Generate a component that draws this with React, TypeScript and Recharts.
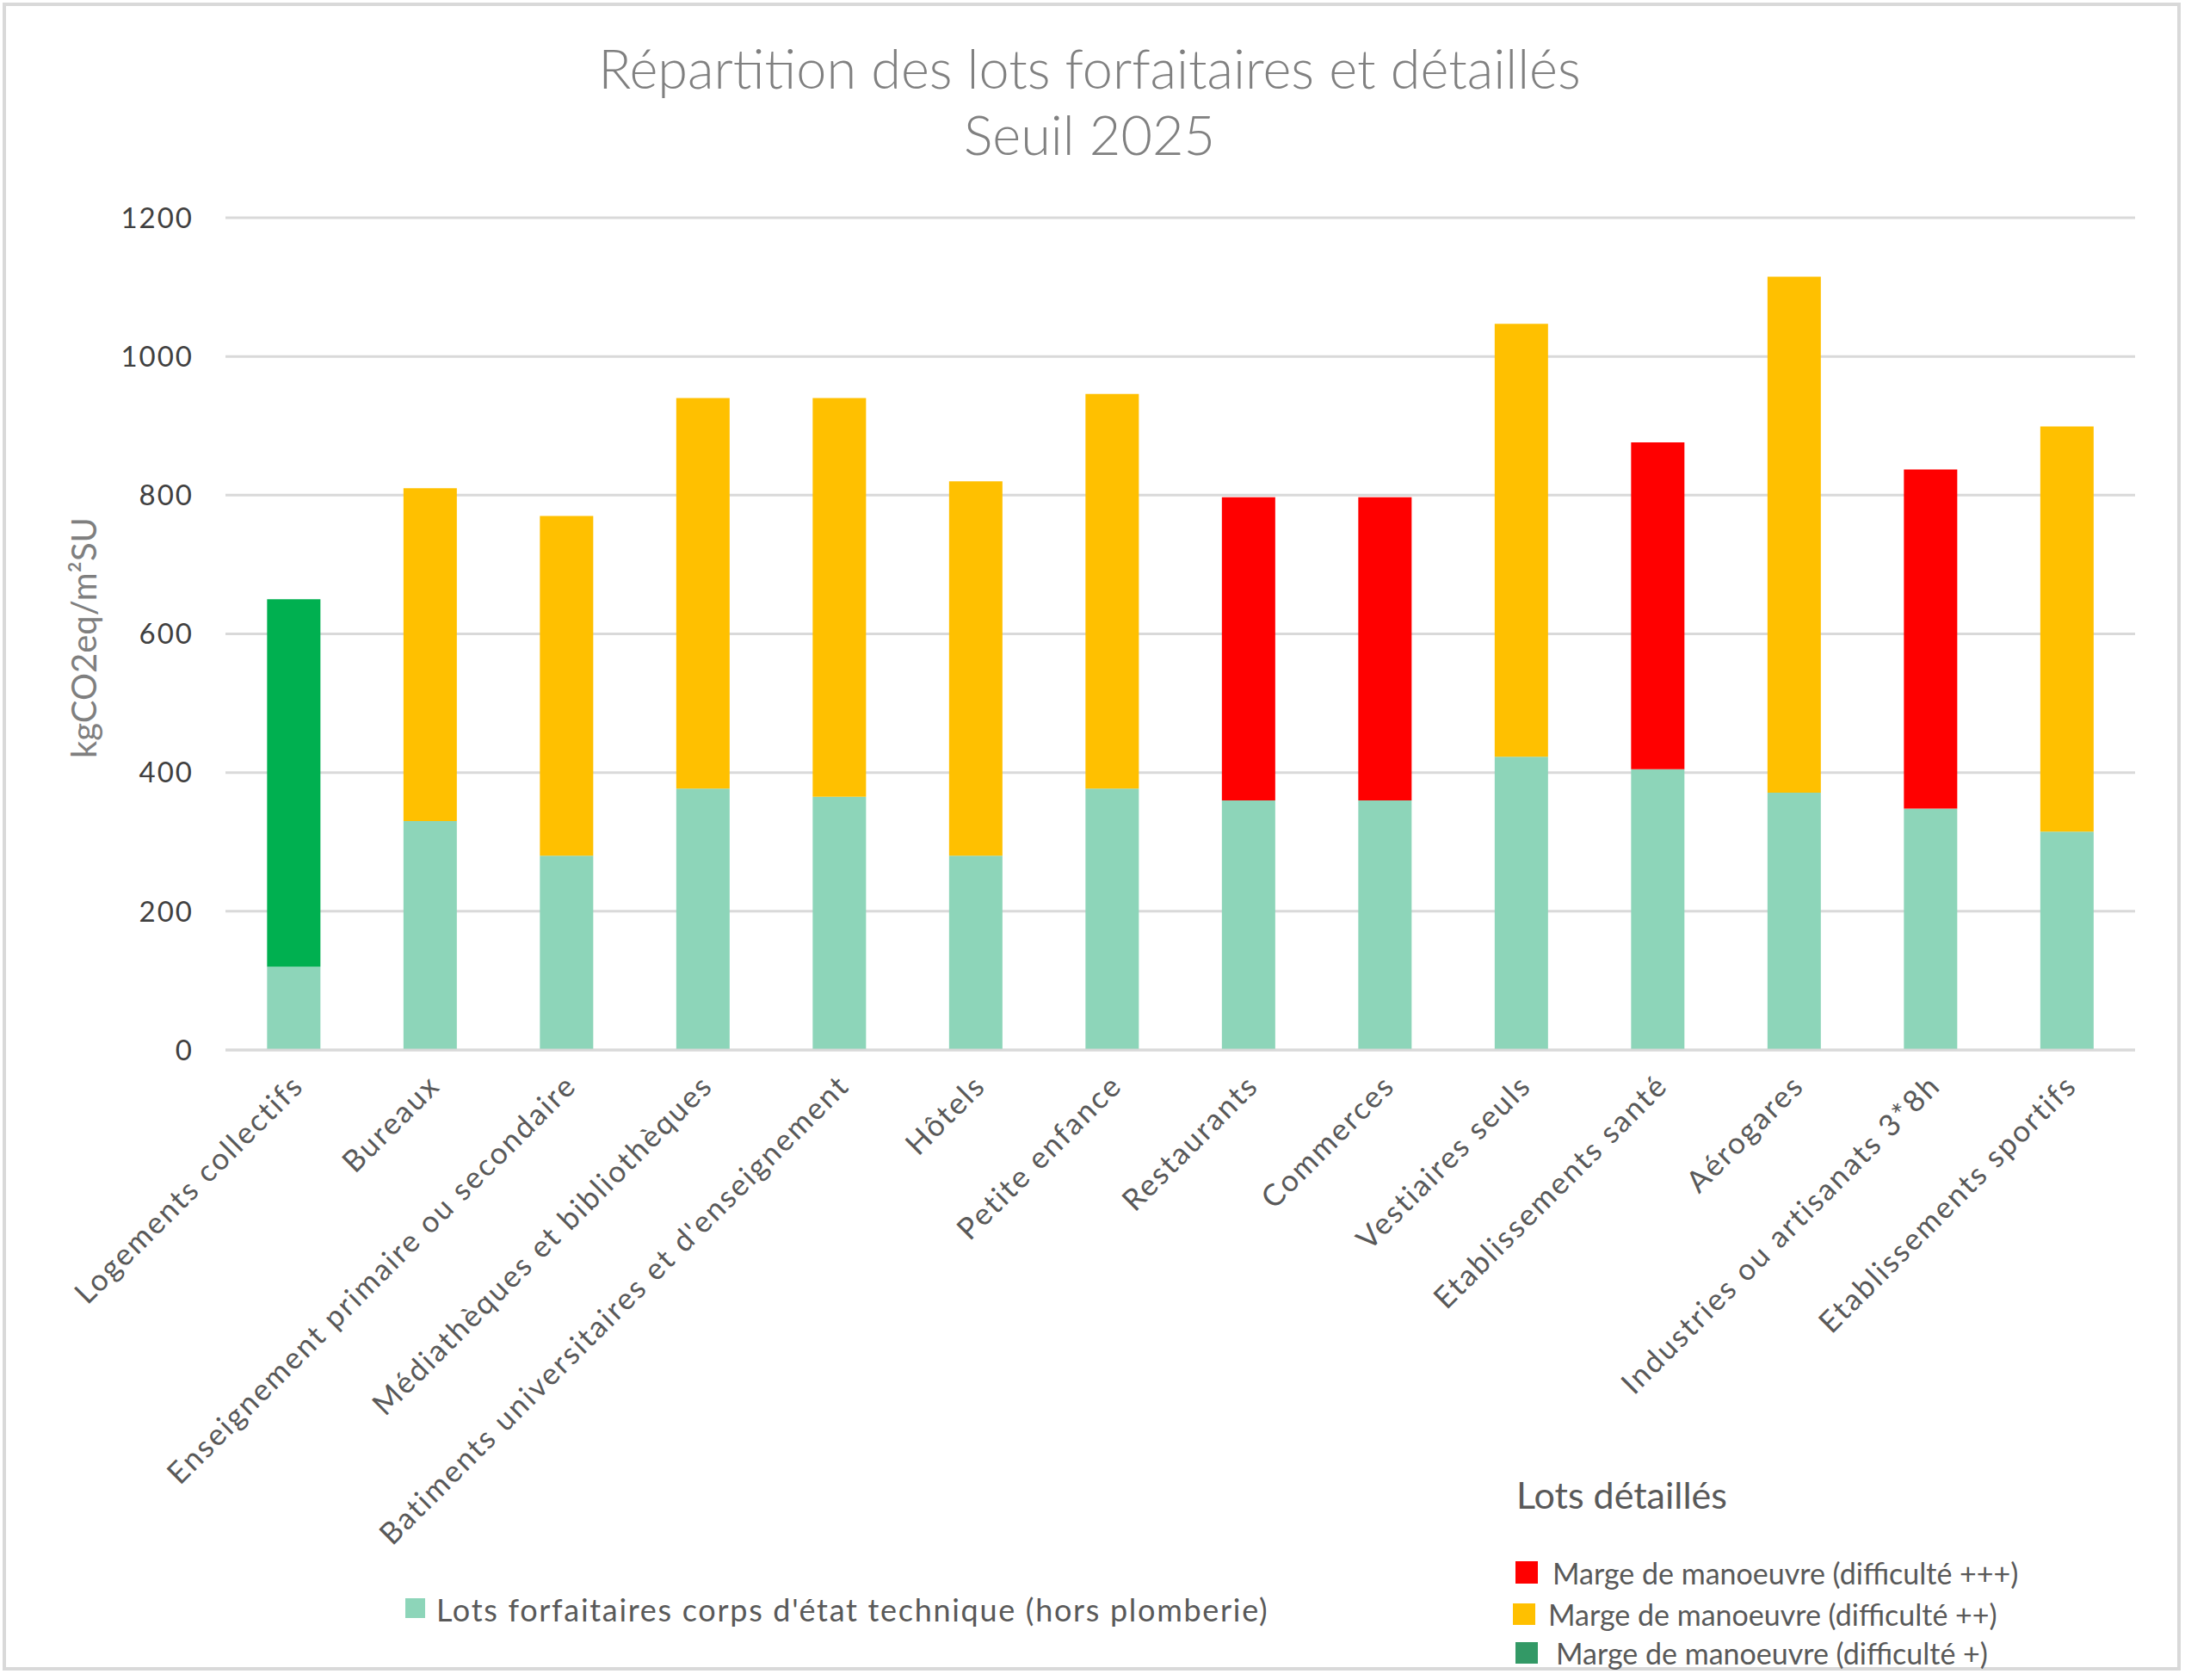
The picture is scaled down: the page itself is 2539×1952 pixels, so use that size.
import React from 'react';
import { BarChart, Bar, XAxis, YAxis, CartesianGrid } from 'recharts';

const categories: string[] = [
  'Logements collectifs',
  'Bureaux',
  'Enseignement primaire ou secondaire',
  'Médiathèques et bibliothèques',
  "Batiments universitaires et d'enseignement",
  'Hôtels',
  'Petite enfance',
  'Restaurants',
  'Commerces',
  'Vestiaires seuls',
  'Etablissements santé',
  'Aérogares',
  'Industries ou artisanats 3*8h',
  'Etablissements sportifs',
];

// Lots forfaitaires corps d'état technique (hors plomberie)
const forfaitaires: number[] = [120, 330, 280, 377, 365, 280, 377, 360, 360, 423, 405, 371, 348, 315];
// Marge de manoeuvre (difficulté +++)
const difficulte3: (number | null)[] = [null, null, null, null, null, null, null, 437, 437, null, 471, null, 489, null];
// Marge de manoeuvre (difficulté ++)
const difficulte2: (number | null)[] = [null, 480, 490, 563, 575, 540, 569, null, null, 624, null, 744, null, 584];
// Marge de manoeuvre (difficulté +)
const difficulte1: (number | null)[] = [530, null, null, null, null, null, null, null, null, null, null, null, null, null];

const yTicks: number[] = [0, 200, 400, 600, 800, 1000, 1200];

const title1 = 'Répartition des lots forfaitaires et détaillés';
const title2 = 'Seuil 2025';
const yLabel = 'kgCO2eq/m²SU';
const legendBase = "Lots forfaitaires corps d'état technique (hors plomberie)";
const legendTitle = 'Lots détaillés';
const legend3 = 'Marge de manoeuvre (difficulté +++)';
const legend2 = 'Marge de manoeuvre (difficulté ++)';
const legend1 = 'Marge de manoeuvre (difficulté +)';

const data = categories.map((name, i) => ({
  name,
  base: forfaitaires[i],
  d3: difficulte3[i],
  d2: difficulte2[i],
  d1: difficulte1[i],
}));

const FONT = 'Lato, "Open Sans", sans-serif';
const W = 2539;
const H = 1952;

const XTick = (props: any) => {
  const { x, y, payload } = props;
  return (
    <g transform={`translate(${x + 5},${y + 27})`}>
      <text
        transform="rotate(-45)"
        textAnchor="end"
        dy="0.35em"
        fill="#595959"
        fontSize={35}
        fontFamily={FONT}
        letterSpacing={2.3}
      >
        {payload.value}
      </text>
    </g>
  );
};

export default function App() {
  return (
    <div style={{ position: 'relative', width: W, height: H, background: '#fff' }}>
      <style>{'body{margin:0;}'}</style>
      <BarChart
        width={W}
        height={H}
        data={data}
        margin={{ top: 253, right: 58, left: 162, bottom: 232 }}
        barCategoryGap="30.5%"
      >
        <CartesianGrid vertical={false} stroke="#d9d9d9" strokeWidth={3} />
        <XAxis
          dataKey="name"
          interval={0}
          height={500}
          tickLine={false}
          axisLine={{ stroke: '#d9d9d9', strokeWidth: 3 }}
          tick={<XTick />}
        />
        <YAxis
          width={100}
          domain={[0, 1200]}
          ticks={yTicks}
          axisLine={false}
          tickLine={false}
          tickMargin={31}
          tick={{ fill: '#404040', fontSize: 33, fontFamily: FONT, letterSpacing: 2 }}
        />
        <Bar dataKey="base" stackId="a" fill="#8DD5B9" isAnimationActive={false} />
        <Bar dataKey="d3" stackId="a" fill="#FF0000" isAnimationActive={false} />
        <Bar dataKey="d2" stackId="a" fill="#FFC000" isAnimationActive={false} />
        <Bar dataKey="d1" stackId="a" fill="#00B050" isAnimationActive={false} />
      </BarChart>
      <svg
        width={W}
        height={H}
        style={{ position: 'absolute', left: 0, top: 0, pointerEvents: 'none' }}
      >
        <rect x={5} y={5} width={2527} height={1934} fill="none" stroke="#d9d9d9" strokeWidth={4} />
        <text x={1266} y={78} textAnchor="middle" dominantBaseline="central" fill="#808080" fontSize={63} fontWeight={300} fontFamily={FONT}>
          {title1}
        </text>
        <text x={1266} y={155} textAnchor="middle" dominantBaseline="central" fill="#808080" fontSize={63} fontWeight={300} fontFamily={FONT}>
          {title2}
        </text>
        <text
          x={97}
          y={741}
          transform="rotate(-90, 97, 741)"
          textAnchor="middle"
          dominantBaseline="central"
          fill="#7f7f7f"
          fontSize={40}
          fontFamily={FONT}
        >
          {yLabel}
        </text>
        <rect x={471} y={1857} width={23} height={23} fill="#8DD5B9" />
        <text x={507} y={1870} dominantBaseline="central" fill="#595959" fontSize={36} fontFamily={FONT} letterSpacing={1.7}>
          {legendBase}
        </text>
        <text x={1762} y={1753} fill="#595959" fontSize={43} fontFamily={FONT}>
          {legendTitle}
        </text>
        <rect x={1761} y={1814} width={26} height={26} fill="#FF0000" />
        <text x={1804} y={1827} dominantBaseline="central" fill="#595959" fontSize={34} fontFamily={FONT}>
          {legend3}
        </text>
        <rect x={1758} y={1863} width={26} height={25} fill="#FFC000" />
        <text x={1799} y={1875} dominantBaseline="central" fill="#595959" fontSize={34} fontFamily={FONT}>
          {legend2}
        </text>
        <rect x={1761} y={1908} width={26} height={25} fill="#339966" />
        <text x={1808} y={1920} dominantBaseline="central" fill="#595959" fontSize={34} fontFamily={FONT}>
          {legend1}
        </text>
      </svg>
    </div>
  );
}
